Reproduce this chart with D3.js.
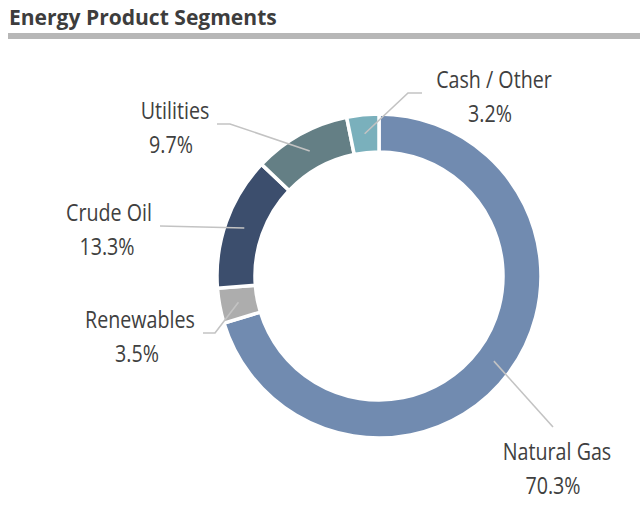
<!DOCTYPE html>
<html>
<head>
<meta charset="utf-8">
<script src="https://cdn.jsdelivr.net/npm/d3@7"></script>
<style>
  html, body { margin: 0; padding: 0; background: #fff; }
  svg { display: block; }
</style>
</head>
<body>
<svg id="chart" width="640" height="507"></svg>
<script>
// ---- data ----
const categories = ["Natural Gas", "Renewables", "Crude Oil", "Utilities", "Cash / Other"];
const values = [70.3, 3.5, 13.3, 9.7, 3.2];
const valueLabels = ["70.3%", "3.5%", "13.3%", "9.7%", "3.2%"];
const colors = ["#718bb0", "#adadad", "#3c4e6d", "#647f85", "#7ab0bc"];

// ---- layout (label anchors and leader-line elbows) ----
const labelLayout = [
  { line: [[553, 427]], name: [557, 460], val: [553, 494] },
  { line: [[215, 333], [203, 333]], name: [140, 328], val: [137, 362] },
  { line: [[160, 226]], name: [109, 221], val: [107, 255] },
  { line: [[230, 124], [217, 124]], name: [175, 119], val: [171, 153] },
  { line: [[408, 93], [422, 93]], name: [494, 88], val: [490, 122] }
];

const svg = d3.select("#chart");
const cx = 379, cy = 276, outerR = 162, innerR = 124;
const textScale = 0.82;

// title
const title = svg.append("text")
  .attr("font-family", "'Open Sans', sans-serif")
  .attr("font-weight", 700)
  .attr("font-size", 22)
  .attr("fill", "#3d3d3d")
  .text("Energy Product Segments");
const tw = title.node().getComputedTextLength();
title.attr("transform", `translate(9,25) scale(${268 / tw},1)`);
svg.append("rect")
  .attr("x", 8).attr("y", 33).attr("width", 632).attr("height", 6)
  .attr("fill", "#b7b7b7");

const data = categories.map((c, i) => ({ name: c, value: values[i], label: valueLabels[i], color: colors[i], layout: labelLayout[i] }));

const pie = d3.pie().value(d => d.value).sort(null);
const arc = d3.arc().innerRadius(innerR).outerRadius(outerR);
const arcs = pie(data);

const g = svg.append("g").attr("transform", `translate(${cx},${cy})`);
g.selectAll("path.slice")
  .data(arcs)
  .join("path")
  .attr("class", "slice")
  .attr("d", arc)
  .attr("fill", d => d.data.color)
  .attr("stroke", "#fff")
  .attr("stroke-width", 3.5)
  .attr("stroke-linejoin", "miter");

// leader lines
const line = d3.line();
svg.selectAll("path.leader")
  .data(arcs)
  .join("path")
  .attr("class", "leader")
  .attr("d", d => {
    const c = arc.centroid(d);
    const pts = [[c[0] + cx, c[1] + cy]].concat(d.data.layout.line);
    return line(pts);
  })
  .attr("fill", "none")
  .attr("stroke", "#c3c3c3")
  .attr("stroke-width", 1.6);

// labels
const labelFont = "'Open Sans', sans-serif";
arcs.forEach(d => {
  const L = d.data.layout;
  svg.append("text")
    .attr("transform", `translate(${L.name[0]},${L.name[1]}) scale(${textScale},1)`)
    .attr("text-anchor", "middle")
    .attr("font-family", labelFont)
    .attr("font-size", 24)
    .attr("fill", "#404040")
    .text(d.data.name);
  svg.append("text")
    .attr("transform", `translate(${L.val[0]},${L.val[1]}) scale(${textScale},1)`)
    .attr("text-anchor", "middle")
    .attr("font-family", labelFont)
    .attr("font-size", 24)
    .attr("fill", "#404040")
    .text(d.data.label);
});
</script>
</body>
</html>
